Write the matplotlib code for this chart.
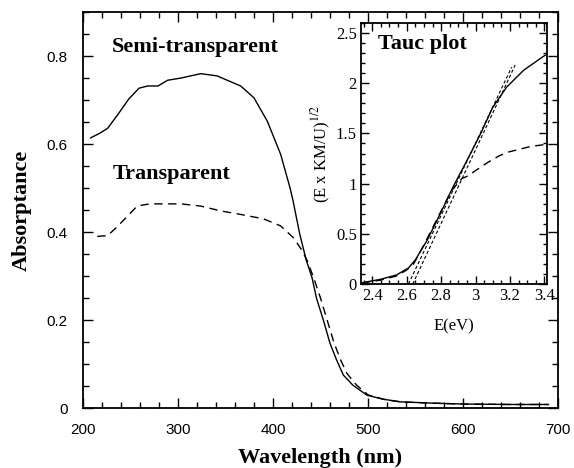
import matplotlib
matplotlib.use("Agg")
import matplotlib.pyplot as plt
from matplotlib.ticker import MultipleLocator

plt.rcParams['mathtext.fontset'] = 'stix'

# Main panel data (wavelength nm, absorptance)
semi_wl = [208, 218, 226, 237, 248, 259, 268, 279, 289, 303, 324, 341, 366, 380, 394,
           408, 418, 421, 428, 435, 441, 446, 453, 460, 467, 474, 484, 499, 516, 534,
           568, 600, 650, 690]
semi_abs = [0.614, 0.625, 0.636, 0.668, 0.702, 0.727, 0.732, 0.732, 0.745, 0.75, 0.76,
            0.755, 0.732, 0.705, 0.652, 0.577, 0.5, 0.472, 0.397, 0.336, 0.297, 0.248,
            0.2, 0.147, 0.109, 0.075, 0.052, 0.029, 0.02, 0.014, 0.011, 0.009, 0.008, 0.008]

trans_wl = [215, 226, 235, 245, 257, 270, 285, 303, 324, 345, 366, 390, 408, 422, 430,
            436, 443, 450, 457, 464, 471, 478, 488, 500, 516, 534, 568, 600, 650, 690]
trans_abs = [0.39, 0.392, 0.41, 0.432, 0.459, 0.464, 0.464, 0.464, 0.459, 0.448, 0.44,
             0.43, 0.414, 0.386, 0.36, 0.335, 0.295, 0.25, 0.2, 0.15, 0.11, 0.078, 0.052,
             0.03, 0.02, 0.014, 0.011, 0.009, 0.008, 0.008]

# Inset (Tauc plot) data
semi_E = [2.34, 2.447, 2.54, 2.61, 2.65, 2.72, 2.795, 2.87, 2.95, 3.03, 3.10, 3.18, 3.28, 3.405]
semi_T = [0.013, 0.047, 0.09, 0.16, 0.24, 0.44, 0.70, 0.97, 1.23, 1.5, 1.76, 1.96, 2.13, 2.28]

trans_E = [2.34, 2.45, 2.54, 2.6, 2.64, 2.70, 2.78, 2.86, 2.92, 2.96, 3.0, 3.07, 3.13,
           3.18, 3.25, 3.32, 3.405]
trans_T = [0.01, 0.04, 0.08, 0.14, 0.2, 0.39, 0.66, 0.93, 1.05, 1.08, 1.13, 1.21, 1.27,
           1.31, 1.34, 1.37, 1.39]

fit1_E = [2.61, 3.21]
fit1_T = [0.0, 2.16]
fit2_E = [2.635, 3.23]
fit2_T = [0.0, 2.18]

main_xticks = [200, 300, 400, 500, 600, 700]
main_yticks = [0, 0.2, 0.4, 0.6, 0.8]
inset_xticks = [2.4, 2.6, 2.8, 3.0, 3.2, 3.4]
inset_yticks = [0, 0.5, 1, 1.5, 2, 2.5]

serif = ['Liberation Serif', 'DejaVu Serif']
sans = ['Liberation Sans', 'DejaVu Sans']

fig = plt.figure(figsize=(5.74, 4.68), dpi=100)
ax = fig.add_axes([0.1446, 0.1282, 0.8275, 0.846])

ax.plot(semi_wl, semi_abs, color='black', lw=1.0)
ax.plot(trans_wl, trans_abs, color='black', lw=1.0, dashes=(6, 4))
ax.set_xlim(200, 700)
ax.set_ylim(0, 0.9)
ax.set_xticks(main_xticks)
ax.set_xticklabels([str(v) for v in main_xticks], family=sans, fontsize=11)
ax.set_yticks(main_yticks)
ax.set_yticklabels(['0', '0.2', '0.4', '0.6', '0.8'], family=sans, fontsize=11)
ax.xaxis.set_minor_locator(MultipleLocator(20))
ax.yaxis.set_minor_locator(MultipleLocator(0.05))
ax.tick_params(which='both', direction='in', top=True, right=True, width=1.0)
ax.tick_params(which='major', length=7, pad=11)
ax.tick_params(which='minor', length=4)
for s in ax.spines.values():
    s.set_linewidth(1.3)
ax.set_xlabel('Wavelength (nm)', family=serif, fontweight='bold', fontsize=16, labelpad=8)
ax.set_ylabel('Absorptance', family=serif, fontweight='bold', fontsize=16, labelpad=11)

ax.text(0.06, 0.913, 'Semi-transparent', transform=ax.transAxes, family=serif,
        fontweight='bold', fontsize=16, va='center', ha='left')
ax.text(0.063, 0.5915, 'Transparent', transform=ax.transAxes, family=serif,
        fontweight='bold', fontsize=16, va='center', ha='left')

# Inset
ins = fig.add_axes([0.629, 0.393, 0.324, 0.558])
ins.plot(semi_E, semi_T, color='black', lw=1.0)
ins.plot(trans_E, trans_T, color='black', lw=1.0, dashes=(6, 4))
ins.plot(fit1_E, fit1_T, color='black', lw=0.8, dashes=(3, 2))
ins.plot(fit2_E, fit2_T, color='black', lw=0.8, dashes=(3, 2))
ins.set_xlim(2.335, 3.415)
ins.set_ylim(0, 2.6)
ins.set_xticks(inset_xticks)
ins.set_xticklabels(['2.4', '2.6', '2.8', '3', '3.2', '3.4'], family=serif, fontsize=12)
ins.set_yticks(inset_yticks)
ins.set_yticklabels(['0', '0.5', '1', '1.5', '2', '2.5'], family=serif, fontsize=12)
ins.xaxis.set_minor_locator(MultipleLocator(0.05))
ins.yaxis.set_minor_locator(MultipleLocator(0.1))
ins.tick_params(which='both', direction='in', top=True, right=True, width=1.0)
ins.tick_params(which='major', length=6, pad=3)
ins.tick_params(which='minor', length=3)
for s in ins.spines.values():
    s.set_linewidth(1.3)
ins.set_xlabel('E(eV)', family=serif, fontsize=12, labelpad=10)
ins.set_ylabel('(E x KM/U)$^{1/2}$', family=serif, fontsize=12, labelpad=2)
ins.text(0.09, 0.92, 'Tauc plot', transform=ins.transAxes, family=serif,
         fontweight='bold', fontsize=16, va='center', ha='left')

fig.savefig('out.png', dpi=100)
